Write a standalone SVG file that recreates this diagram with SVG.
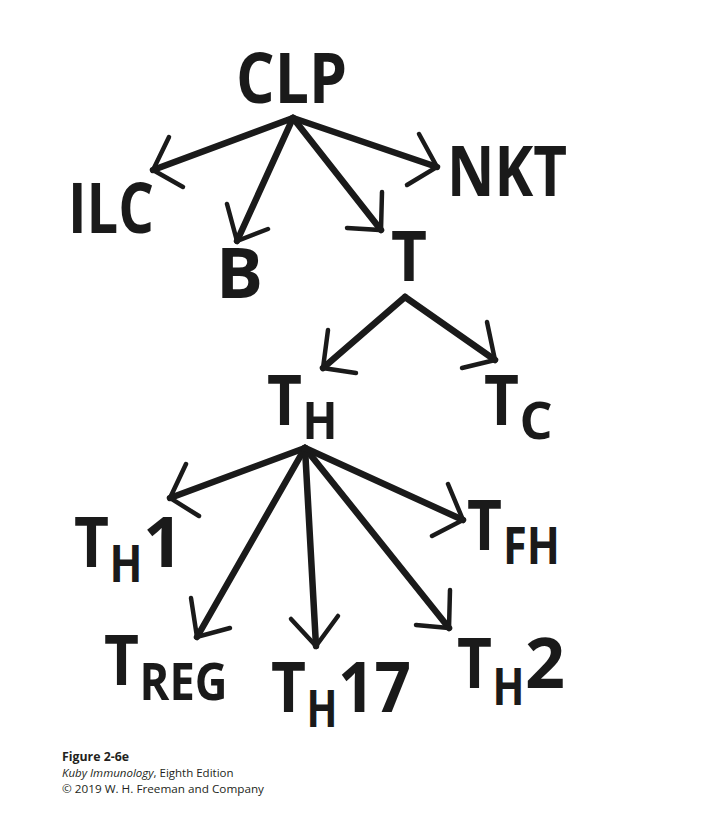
<svg xmlns="http://www.w3.org/2000/svg" width="708" height="828" viewBox="0 0 708 828">
<style>
.lbl{font-family:"Open Sans","Liberation Sans",sans-serif;font-weight:700;font-size:70px;fill:#1a1a1a}
.sub{font-size:52px}
.shaft{stroke:#1a1a1a;stroke-width:6.5;stroke-linecap:round;fill:none}
.head{stroke:#1a1a1a;stroke-width:4.5;stroke-linecap:round;stroke-linejoin:miter;fill:none}
.cap{font-family:"Open Sans","Liberation Sans",sans-serif;font-size:11.5px;fill:#231f20}
</style>
<rect width="708" height="828" fill="#ffffff"/>
<g id="connectors">
<line class="shaft" x1="293" y1="118" x2="153" y2="170"/><polyline class="head" points="169,137 153,170 183,187"/>
<line class="shaft" x1="293" y1="118" x2="237" y2="241"/><polyline class="head" points="227,204 237,241 268,229"/>
<line class="shaft" x1="293" y1="118" x2="381" y2="230"/><polyline class="head" points="382,192 381,230 347,228"/>
<line class="shaft" x1="293" y1="118" x2="437" y2="167"/><polyline class="head" points="419,134 437,167 407,185"/>
<line class="shaft" x1="405" y1="297" x2="323" y2="368"/><polyline class="head" points="328,330 323,368 356,373"/>
<line class="shaft" x1="405" y1="297" x2="495" y2="360"/><polyline class="head" points="487,322 495,360 462,368"/>
<line class="shaft" x1="305" y1="448" x2="170" y2="498"/><polyline class="head" points="186,464 170,498 199,516"/>
<line class="shaft" x1="305" y1="448" x2="197" y2="637"/><polyline class="head" points="191,598 197,637 230,628"/>
<line class="shaft" x1="305" y1="448" x2="316" y2="646"/><polyline class="head" points="291,619 316,646 338,616"/>
<line class="shaft" x1="305" y1="448" x2="449" y2="628"/><polyline class="head" points="450,590 449,628 416,625"/>
<line class="shaft" x1="305" y1="448" x2="463" y2="520"/><polyline class="head" points="448,484 463,520 432,536"/>
</g>
<g id="CLP"><text class="lbl" x="236" y="103" textLength="111" lengthAdjust="spacingAndGlyphs">CLP</text></g>
<g id="ILC"><text class="lbl" x="68" y="233" textLength="86" lengthAdjust="spacingAndGlyphs">ILC</text></g>
<g id="B"><text class="lbl" x="216" y="298">B</text></g>
<g id="T"><text class="lbl" x="391" y="281" textLength="36" lengthAdjust="spacingAndGlyphs">T</text></g>
<g id="NKT"><text class="lbl" x="447" y="196" textLength="120" lengthAdjust="spacingAndGlyphs">NKT</text></g>
<g id="TH"><text class="lbl"><tspan x="267" y="425" textLength="35" lengthAdjust="spacingAndGlyphs">T</tspan><tspan class="sub" x="302.5" y="439" textLength="35" lengthAdjust="spacingAndGlyphs">H</tspan></text></g>
<g id="TC"><text class="lbl"><tspan x="484" y="425" textLength="35" lengthAdjust="spacingAndGlyphs">T</tspan><tspan class="sub" x="519.5" y="439">C</tspan></text></g>
<g id="TH1"><text class="lbl"><tspan x="74" y="567" textLength="35" lengthAdjust="spacingAndGlyphs">T</tspan><tspan class="sub" x="109.5" y="582" textLength="33" lengthAdjust="spacingAndGlyphs">H</tspan><tspan x="143" y="567">1</tspan></text></g>
<g id="TREG"><text class="lbl"><tspan x="104" y="685" textLength="35" lengthAdjust="spacingAndGlyphs">T</tspan><tspan class="sub" x="139.5" y="700" textLength="88" lengthAdjust="spacingAndGlyphs">REG</tspan></text></g>
<g id="TH17"><text class="lbl"><tspan x="271" y="712" textLength="35" lengthAdjust="spacingAndGlyphs">T</tspan><tspan class="sub" x="306.5" y="727" textLength="31" lengthAdjust="spacingAndGlyphs">H</tspan><tspan x="338" y="712" textLength="73" lengthAdjust="spacingAndGlyphs">17</tspan></text></g>
<g id="TH2"><text class="lbl"><tspan x="457" y="688" textLength="35" lengthAdjust="spacingAndGlyphs">T</tspan><tspan class="sub" x="492.5" y="705" textLength="32" lengthAdjust="spacingAndGlyphs">H</tspan><tspan x="525" y="688">2</tspan></text></g>
<g id="TFH"><text class="lbl"><tspan x="467" y="550" textLength="35" lengthAdjust="spacingAndGlyphs">T</tspan><tspan class="sub" x="503" y="564" textLength="57" lengthAdjust="spacingAndGlyphs">FH</tspan></text></g>
<g id="caption">
<text class="cap" x="62" y="761" font-weight="700" textLength="67" lengthAdjust="spacingAndGlyphs">Figure 2-6e</text>
<text class="cap" x="62" y="777"><tspan font-style="italic">Kuby Immunology</tspan>, Eighth Edition</text>
<text class="cap" x="62" y="793" textLength="202" lengthAdjust="spacingAndGlyphs">© 2019 W. H. Freeman and Company</text>
</g>
</svg>
